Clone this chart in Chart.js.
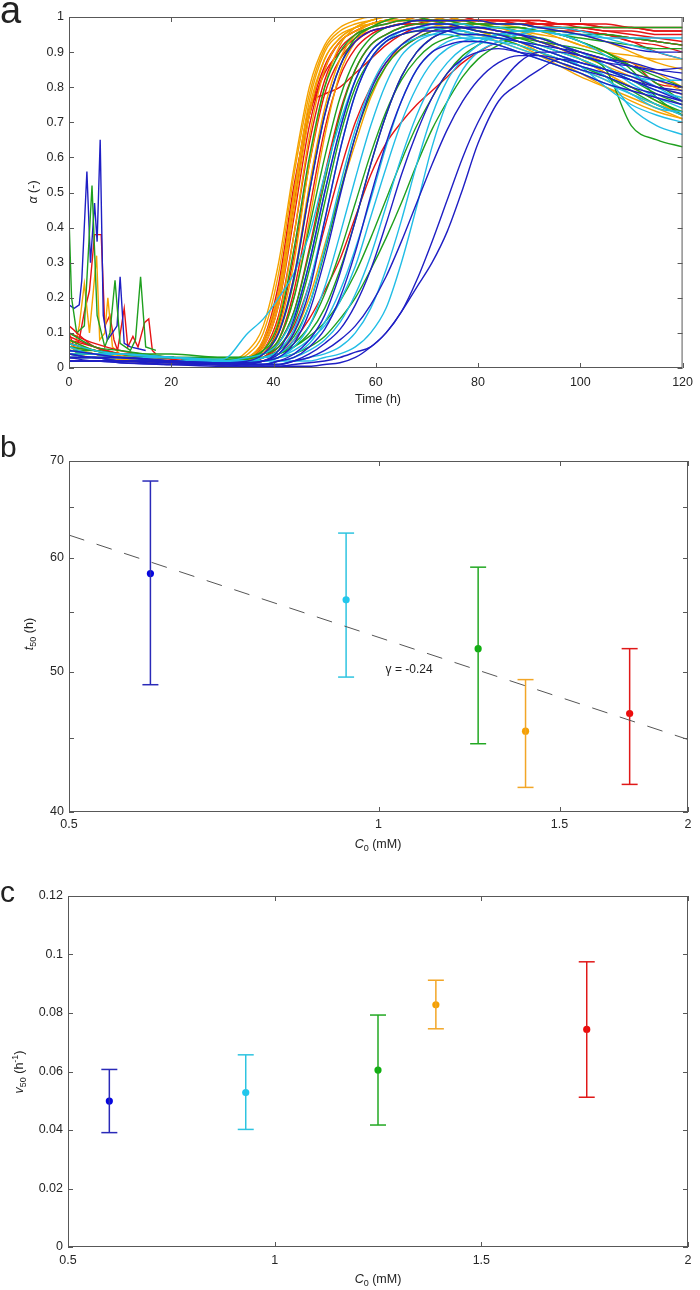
<!DOCTYPE html>
<html lang="en">
<head>
<meta charset="UTF-8">
<title>Aggregation kinetics vs concentration</title>
<script src="https://cdn.jsdelivr.net/npm/chart.js"></script>
<style>
  body { margin: 0; background: #fff; font-family: 'Liberation Sans', Arial, sans-serif; color: #222; }
  #page { position: relative; width: 700px; height: 1290px; overflow: hidden; }
  canvas { position: absolute; left: 0; }
  .lbl { position: absolute; font-size: 12.5px; line-height: 1; white-space: nowrap; transform: translate(-50%, -50%); }
  .rot { transform: translate(-50%, -50%) rotate(-90deg); }
  .panel { position: absolute; left: 0; line-height: 1; }
  sub, sup { font-size: 0.72em; line-height: 0; }
</style>
</head>
<body>
<div id="page">
  <canvas id="chartA" width="700" height="420" style="top:0"></canvas>
  <canvas id="chartB" width="700" height="420" style="top:440px"></canvas>
  <canvas id="chartC" width="700" height="420" style="top:870px"></canvas>

  <div class="panel" style="top:-9px;font-size:38px">a</div>
  <div class="panel" style="top:432px;font-size:30px">b</div>
  <div class="panel" style="top:877px;font-size:30px">c</div>

  <div class="lbl" style="left:378px;top:399px">Time (h)</div>
  <div class="lbl rot" style="left:33px;top:192px"><i>α</i> (-)</div>
  <div class="lbl" style="left:378px;top:844px"><i>C</i><sub>0</sub> (mM)</div>
  <div class="lbl rot" style="left:29px;top:634px"><i>t</i><sub>50</sub> (h)</div>
  <div class="lbl" style="left:378px;top:1279px"><i>C</i><sub>0</sub> (mM)</div>
  <div class="lbl rot" style="left:19px;top:1072px"><i>v</i><sub>50</sub> (h<sup>-1</sup>)</div>
</div>

<script>
// ---- panel a: alpha(t) traces, all sampled on the same time grid ----
const T = [0, 5, 10, 20, 30, 35, 38, 41, 44, 47, 50, 53, 56, 59, 62, 65, 68, 71, 74, 77, 80, 84, 88, 92, 96, 100, 105, 110, 115, 120];

const blueRuns = [
  [0.05,0.04,0.03,0.02,0.015, 0.02,0.04,0.10,0.26,0.50, 0.72,0.86,0.93,0.96,0.97, 0.98,0.99,0.99,0.99,0.99, 0.99,0.98,0.98,0.97,0.96, 0.95,0.93,0.91,0.90,0.90],
  [0.04,0.03,0.03,0.02,0.01, 0.015,0.02,0.05,0.14,0.30, 0.50,0.68,0.82,0.90,0.94, 0.96,0.97,0.98,0.98,0.97, 0.96,0.95,0.93,0.91,0.89, 0.87,0.85,0.83,0.80,0.78],
  [0.03,0.03,0.02,0.02,0.01, 0.01,0.02,0.03,0.07,0.16, 0.31,0.49,0.66,0.79,0.87, 0.92,0.95,0.97,0.97,0.97, 0.97,0.96,0.95,0.94,0.92, 0.90,0.88,0.86,0.84,0.82],
  [0.02,0.02,0.02,0.015,0.01, 0.01,0.01,0.02,0.04,0.08, 0.15,0.27,0.42,0.58,0.72, 0.83,0.90,0.94,0.96,0.97, 0.97,0.96,0.95,0.93,0.91, 0.89,0.87,0.86,0.85,0.855],
  [0.03,0.02,0.02,0.015,0.01, 0.01,0.01,0.01,0.02,0.04, 0.07,0.11,0.18,0.28,0.41, 0.55,0.67,0.77,0.84,0.88, 0.90,0.91,0.90,0.89,0.87, 0.85,0.83,0.80,0.78,0.76],
  [0.02,0.02,0.015,0.01,0.01, 0.005,0.005,0.005,0.01,0.015, 0.02,0.03,0.045,0.06,0.10, 0.16,0.25,0.36,0.48,0.60, 0.70,0.80,0.87,0.90,0.90, 0.89,0.87,0.84,0.82,0.80],
  [0.02,0.02,0.015,0.01,0.005, 0.005,0.005,0.005,0.005,0.005, 0.01,0.015,0.03,0.06,0.10, 0.16,0.23,0.30,0.39,0.51, 0.64,0.76,0.81,0.85,0.88, 0.87,0.85,0.82,0.79,0.76],
  [0.03,0.03,0.02,0.02,0.01, 0.01,0.01,0.02,0.03,0.06, 0.11,0.20,0.33,0.49,0.64, 0.76,0.85,0.90,0.92,0.93, 0.93,0.92,0.90,0.88,0.86, 0.84,0.81,0.79,0.77,0.75],
  [0.04,0.03,0.03,0.02,0.015, 0.015,0.02,0.04,0.10,0.22, 0.42,0.62,0.78,0.88,0.93, 0.95,0.96,0.96,0.96,0.95, 0.95,0.94,0.93,0.92,0.91, 0.90,0.88,0.87,0.85,0.84],
  [0.02,0.02,0.02,0.01,0.01, 0.01,0.01,0.01,0.02,0.03, 0.05,0.08,0.12,0.18,0.26, 0.36,0.47,0.58,0.68,0.76, 0.82,0.87,0.89,0.89,0.88, 0.86,0.84,0.82,0.80,0.79]
];
const cyanRuns = [
  [0.04,0.03,0.03,0.03,0.025, 0.10,0.14,0.20,0.27,0.38, 0.55,0.70,0.82,0.90,0.94, 0.96,0.97,0.97,0.96,0.95, 0.94,0.93,0.91,0.89,0.87, 0.85,0.82,0.78,0.74,0.73],
  [0.06,0.04,0.04,0.03,0.02, 0.02,0.03,0.05,0.11,0.24, 0.42,0.62,0.78,0.88,0.93, 0.96,0.97,0.98,0.98,0.98, 0.97,0.97,0.96,0.96,0.95, 0.95,0.94,0.94,0.94,0.94],
  [0.03,0.03,0.03,0.02,0.02, 0.02,0.02,0.03,0.06,0.12, 0.23,0.38,0.54,0.69,0.81, 0.89,0.93,0.95,0.96,0.96, 0.95,0.94,0.93,0.91,0.89, 0.87,0.85,0.83,0.82,0.82],
  [0.05,0.04,0.04,0.03,0.02, 0.02,0.02,0.03,0.04,0.07, 0.13,0.22,0.34,0.48,0.63, 0.76,0.85,0.90,0.93,0.94, 0.94,0.93,0.92,0.90,0.88, 0.86,0.83,0.74,0.69,0.665],
  [0.04,0.04,0.03,0.03,0.02, 0.02,0.02,0.02,0.03,0.05, 0.08,0.13,0.21,0.32,0.46, 0.60,0.72,0.81,0.87,0.91, 0.93,0.95,0.95,0.94,0.92, 0.90,0.86,0.81,0.77,0.74],
  [0.03,0.03,0.02,0.02,0.015, 0.01,0.01,0.01,0.02,0.02, 0.03,0.04,0.06,0.10,0.17, 0.30,0.46,0.63,0.76,0.85, 0.90,0.93,0.95,0.96,0.95, 0.93,0.89,0.84,0.80,0.76],
  [0.05,0.04,0.03,0.02,0.015, 0.01,0.01,0.02,0.02,0.03, 0.04,0.06,0.10,0.17,0.28, 0.42,0.58,0.72,0.82,0.88, 0.92,0.95,0.96,0.97,0.97, 0.96,0.94,0.92,0.90,0.88],
  [0.04,0.03,0.03,0.02,0.02, 0.02,0.03,0.04,0.08,0.18, 0.34,0.52,0.68,0.80,0.88, 0.92,0.94,0.95,0.95,0.94, 0.93,0.92,0.90,0.88,0.86, 0.84,0.81,0.78,0.75,0.72],
  [0.03,0.03,0.02,0.02,0.015, 0.015,0.02,0.03,0.05,0.08, 0.12,0.19,0.29,0.43,0.57, 0.70,0.80,0.87,0.91,0.93, 0.94,0.94,0.93,0.91,0.89, 0.86,0.80,0.75,0.72,0.70],
  [0.07,0.05,0.04,0.03,0.02, 0.03,0.04,0.07,0.15,0.30, 0.50,0.68,0.82,0.90,0.94, 0.96,0.97,0.97,0.97,0.96, 0.95,0.94,0.93,0.92,0.90, 0.88,0.85,0.82,0.79,0.77]
];
const greenRuns = [
  [0.06,0.05,0.04,0.03,0.02, 0.03,0.05,0.13,0.34,0.60, 0.80,0.90,0.95,0.97,0.98, 0.99,0.99,0.99,0.98,0.98, 0.97,0.97,0.96,0.96,0.95, 0.94,0.93,0.92,0.91,0.91],
  [0.08,0.05,0.04,0.03,0.02, 0.025,0.04,0.08,0.20,0.40, 0.60,0.77,0.88,0.94,0.97, 0.98,0.99,0.99,0.99,0.99, 0.98,0.98,0.98,0.97,0.97, 0.97,0.97,0.97,0.97,0.97],
  [0.05,0.04,0.04,0.03,0.03, 0.03,0.04,0.06,0.13,0.28, 0.47,0.66,0.80,0.88,0.93, 0.95,0.96,0.97,0.97,0.96, 0.95,0.94,0.92,0.90,0.88, 0.86,0.83,0.79,0.75,0.72],
  [0.04,0.04,0.03,0.03,0.02, 0.02,0.03,0.05,0.09,0.18, 0.33,0.50,0.66,0.78,0.86, 0.91,0.94,0.96,0.97,0.97, 0.96,0.95,0.94,0.93,0.92, 0.91,0.89,0.86,0.83,0.80],
  [0.05,0.04,0.03,0.03,0.02, 0.02,0.02,0.03,0.04,0.06, 0.09,0.14,0.20,0.28,0.37, 0.47,0.58,0.68,0.76,0.83, 0.88,0.92,0.94,0.94,0.92, 0.89,0.85,0.69,0.65,0.63],
  [0.07,0.05,0.04,0.03,0.02, 0.02,0.03,0.04,0.06,0.09, 0.13,0.19,0.27,0.37,0.48, 0.59,0.69,0.77,0.84,0.89, 0.92,0.95,0.96,0.96,0.95, 0.93,0.90,0.85,0.77,0.72],
  [0.05,0.04,0.04,0.03,0.02, 0.02,0.03,0.04,0.06,0.10, 0.17,0.28,0.42,0.58,0.72, 0.83,0.90,0.94,0.96,0.97, 0.97,0.97,0.97,0.96,0.95, 0.93,0.90,0.86,0.81,0.76],
  [0.05,0.05,0.04,0.04,0.03, 0.03,0.04,0.07,0.16,0.33, 0.53,0.72,0.85,0.92,0.95, 0.97,0.98,0.98,0.98,0.97, 0.96,0.95,0.94,0.92,0.90, 0.88,0.85,0.82,0.78,0.75],
  [0.10,0.06,0.05,0.03,0.025, 0.03,0.05,0.10,0.25,0.50, 0.72,0.86,0.94,0.97,0.99, 1.0,1.0,0.99,0.99,0.98, 0.98,0.97,0.97,0.96,0.96, 0.95,0.95,0.94,0.93,0.92],
  [0.04,0.04,0.04,0.03,0.03, 0.03,0.03,0.04,0.07,0.12, 0.21,0.33,0.47,0.61,0.73, 0.82,0.88,0.92,0.94,0.95, 0.95,0.94,0.93,0.91,0.89, 0.86,0.83,0.80,0.76,0.73]
];
const orangeRuns = [
  [0.05,0.04,0.03,0.02,0.015, 0.04,0.10,0.27,0.55,0.78, 0.91,0.96,0.98,0.99,1.0, 1.0,1.0,1.0,0.99,0.99, 0.99,0.98,0.97,0.96,0.94, 0.92,0.90,0.87,0.84,0.80],
  [0.04,0.03,0.025,0.02,0.01, 0.03,0.08,0.22,0.50,0.76, 0.90,0.95,0.97,0.98,0.99, 1.0,1.0,0.99,0.99,0.98, 0.97,0.96,0.95,0.93,0.91, 0.88,0.84,0.80,0.76,0.72],
  [0.03,0.03,0.02,0.015,0.01, 0.025,0.06,0.18,0.45,0.72, 0.88,0.94,0.97,0.99,1.0, 1.0,1.0,1.0,0.99,0.98, 0.98,0.97,0.96,0.95,0.94, 0.92,0.90,0.89,0.88,0.88],
  [0.06,0.04,0.03,0.02,0.015, 0.02,0.05,0.14,0.38,0.66, 0.85,0.93,0.96,0.98,0.99, 0.99,1.0,0.99,0.98,0.97, 0.96,0.95,0.93,0.90,0.87, 0.84,0.80,0.76,0.73,0.71],
  [0.02,0.02,0.02,0.015,0.01, 0.02,0.04,0.11,0.30,0.58, 0.80,0.92,0.97,0.99,1.0, 1.0,1.0,1.0,0.99,0.99, 0.98,0.97,0.96,0.94,0.92, 0.90,0.87,0.84,0.82,0.79],
  [0.08,0.05,0.035,0.02,0.02, 0.025,0.04,0.08,0.20,0.42, 0.66,0.84,0.93,0.97,0.99, 1.0,1.0,1.0,1.0,0.99, 0.98,0.97,0.95,0.93,0.91, 0.89,0.86,0.83,0.80,0.78],
  [0.04,0.03,0.03,0.02,0.015, 0.02,0.03,0.05,0.10,0.20, 0.35,0.50,0.64,0.77,0.86, 0.92,0.95,0.97,0.98,0.98, 0.97,0.96,0.95,0.93,0.91, 0.88,0.84,0.80,0.76,0.72],
  [0.05,0.04,0.03,0.02,0.01, 0.03,0.07,0.20,0.48,0.74, 0.88,0.94,0.97,0.98,0.99, 0.99,0.99,0.98,0.97,0.96, 0.95,0.93,0.91,0.89,0.87, 0.85,0.82,0.78,0.75,0.73],
  [0.06,0.05,0.03,0.02,0.015, 0.05,0.12,0.30,0.57,0.80, 0.92,0.97,0.99,1.0,1.0, 1.0,1.0,1.0,1.0,0.99, 0.99,0.98,0.98,0.97,0.96, 0.95,0.93,0.90,0.87,0.85],
  [0.05,0.04,0.03,0.02,0.015, 0.02,0.04,0.10,0.26,0.52, 0.74,0.88,0.95,0.98,0.99, 1.0,1.0,0.99,0.98,0.97, 0.96,0.94,0.92,0.89,0.86, 0.83,0.80,0.77,0.74,0.71]
];
const redRuns = [
  [0.06,0.05,0.04,0.03,0.015, 0.03,0.08,0.24,0.52,0.72, 0.84,0.90,0.94,0.96,0.97, 0.98,0.98,0.99,0.99,0.99, 0.99,0.99,0.98,0.98,0.97, 0.97,0.96,0.96,0.95,0.95],
  [0.10,0.07,0.05,0.03,0.02, 0.03,0.07,0.22,0.50,0.74, 0.78,0.80,0.84,0.88,0.92, 0.95,0.97,0.98,0.99,0.99, 0.99,0.98,0.98,0.97,0.97, 0.96,0.95,0.93,0.90,0.88],
  [0.04,0.04,0.03,0.02,0.01, 0.02,0.05,0.15,0.38,0.64, 0.82,0.91,0.95,0.97,0.98, 0.99,0.99,1.0,1.0,0.99, 0.99,0.99,0.98,0.98,0.97, 0.96,0.95,0.93,0.92,0.90],
  [0.08,0.06,0.04,0.025,0.015, 0.02,0.04,0.12,0.32,0.58, 0.78,0.88,0.93,0.96,0.97, 0.98,0.99,0.99,1.0,1.0, 0.99,0.99,0.99,0.98,0.98, 0.97,0.96,0.95,0.94,0.93],
  [0.03,0.03,0.025,0.02,0.01, 0.015,0.03,0.08,0.22,0.45, 0.68,0.83,0.91,0.95,0.97, 0.98,0.98,0.98,0.98,0.97, 0.97,0.96,0.95,0.93,0.92, 0.90,0.88,0.87,0.81,0.80],
  [0.05,0.04,0.03,0.02,0.01, 0.015,0.02,0.04,0.08,0.14, 0.22,0.31,0.43,0.55,0.64, 0.70,0.75,0.79,0.83,0.87, 0.90,0.93,0.95,0.96,0.96, 0.96,0.95,0.94,0.93,0.92],
  [0.12,0.06,0.04,0.03,0.02, 0.02,0.03,0.07,0.16,0.34, 0.55,0.73,0.85,0.92,0.95, 0.97,0.98,0.99,0.99,0.99, 0.99,0.99,0.99,0.99,0.98, 0.98,0.98,0.97,0.97,0.97],
  [0.07,0.05,0.04,0.03,0.02, 0.03,0.06,0.18,0.43,0.69, 0.85,0.93,0.96,0.98,0.99, 0.99,1.0,1.0,1.0,0.99, 0.99,0.99,0.99,0.98,0.98, 0.98,0.97,0.97,0.96,0.96],
  [0.09,0.06,0.04,0.03,0.02, 0.03,0.07,0.20,0.47,0.72, 0.86,0.93,0.96,0.98,0.99, 0.99,1.0,1.0,1.0,1.0, 0.99,0.99,0.99,0.99,0.98, 0.98,0.97,0.97,0.96,0.96],
  [0.05,0.04,0.03,0.02,0.015, 0.02,0.03,0.06,0.12,0.24, 0.40,0.56,0.70,0.80,0.87, 0.91,0.94,0.96,0.97,0.98, 0.98,0.98,0.98,0.97,0.97, 0.96,0.95,0.94,0.93,0.92]
];

// early noisy spikes (first ~18 h), each with its own sample times
const greenNoiseT = [0, 0.5, 1.5, 3, 4.5, 5.5, 7, 8, 9, 10, 12, 13, 14, 15, 17];
const greenNoise  = [0.43, 0.2, 0.1, 0.12, 0.52, 0.15, 0.06, 0.1, 0.25, 0.07, 0.05, 0.08, 0.26, 0.06, 0.05];
const blueNoiseT  = [0, 1, 2, 2.5, 3.5, 4.2, 5, 5.5, 6.1, 6.7, 7.5, 8.5, 9.4, 10, 10.8, 12, 15];
const blueNoise   = [0.18, 0.17, 0.18, 0.25, 0.56, 0.3, 0.47, 0.36, 0.65, 0.15, 0.08, 0.1, 0.12, 0.26, 0.07, 0.06, 0.05];
const orangeNoiseT = [0, 1, 2, 3, 4, 5.4, 6, 7, 7.6, 8.5, 10, 12];
const orangeNoise  = [0.08, 0.05, 0.12, 0.24, 0.1, 0.32, 0.08, 0.1, 0.2, 0.06, 0.04, 0.03];
const redNoiseT = [0, 1, 2, 3, 4, 5, 6.3, 7, 8, 8.8, 9.5, 10.8, 11.5, 12.5, 13.5, 14.8, 15.6, 16.3, 17];
const redNoise  = [0.1, 0.06, 0.08, 0.16, 0.22, 0.38, 0.38, 0.12, 0.15, 0.08, 0.05, 0.17, 0.06, 0.09, 0.06, 0.13, 0.14, 0.05, 0.04];

const aTicksX = [0, 20, 40, 60, 80, 100, 120];
const aTicksY = [0, 0.1, 0.2, 0.3, 0.4, 0.5, 0.6, 0.7, 0.8, 0.9, 1];

// ---- panels b and c: per-concentration summaries ----
const conc = [0.6, 0.93, 1.25, 1.39, 1.755];
const t50Mean = [58.5, 56.1, 51.9, 45.5, 46.8];
const t50Lo   = [49.0, 49.6, 44.6, 41.6, 41.8];
const t50Hi   = [67.8, 62.4, 59.1, 49.4, 51.9];
const fitX = [0.5, 2];
const fitY = [62.2, 44.9];
const v50Mean = [0.0499, 0.0528, 0.0605, 0.0828, 0.0744];
const v50Lo   = [0.0391, 0.0402, 0.0417, 0.0746, 0.0512];
const v50Hi   = [0.0607, 0.0657, 0.0793, 0.0912, 0.0975];

const bTicksX = [0.5, 1, 1.5, 2];
const bTicksY = [40, 45, 50, 55, 60, 65, 70];
const cTicksX = [0.5, 1, 1.5, 2];
const cTicksY = [0, 0.02, 0.04, 0.06, 0.08, 0.1, 0.12];

const lineCol  = { blue: '#1f1fc4', cyan: '#22bde6', green: '#1fa01f', orange: '#f5a300', red: '#e61414' };
const barCols   = ['#2a2ab8', '#2ec4e0', '#22a822', '#f2a627', '#e01818'];
const pointCols = ['#0505e0', '#1ec8f0', '#10b010', '#f5a000', '#ee0a0a'];

Chart.defaults.font.family = "'Liberation Sans', Arial, sans-serif";
Chart.defaults.font.size = 12.5;
Chart.defaults.color = '#262626';

// matlab-like box with inward ticks on all four sides
const frame = {
  id: 'frame',
  afterDraw(chart) {
    const { ctx, chartArea: a, scales: { x, y } } = chart;
    ctx.save();
    ctx.strokeStyle = '#585858';
    ctx.lineWidth = 1;
    ctx.strokeRect(a.left + 0.5, a.top + 0.5, a.right - a.left - 1, a.bottom - a.top - 1);
    ctx.beginPath();
    x.ticks.forEach(t => {
      const px = Math.round(x.getPixelForValue(t.value)) + 0.5;
      ctx.moveTo(px, a.bottom); ctx.lineTo(px, a.bottom - 5);
      ctx.moveTo(px, a.top); ctx.lineTo(px, a.top + 5);
    });
    y.ticks.forEach(t => {
      const py = Math.round(y.getPixelForValue(t.value)) + 0.5;
      ctx.moveTo(a.left, py); ctx.lineTo(a.left + 5, py);
      ctx.moveTo(a.right, py); ctx.lineTo(a.right - 5, py);
    });
    ctx.stroke();
    ctx.restore();
  }
};

function axis(type, min, max, ticks, size, horizontal, pad, label) {
  return {
    type, min, max,
    grid: { display: false, drawTicks: false },
    border: { display: false },
    ticks: { padding: pad, autoSkip: false, maxRotation: 0, callback: label || (v => String(v)) },
    afterBuildTicks: s => { s.ticks = ticks.map(v => ({ value: v })); },
    afterFit: s => { if (horizontal) s.height = size; else s.width = size; }
  };
}

const baseOpts = {
  responsive: false,
  animation: false,
  events: [],
  plugins: { legend: { display: false }, tooltip: { enabled: false } }
};

// ---- chart a ----
const traceSets = [];
function addRuns(runs, color) {
  runs.forEach(r => traceSets.push({
    data: T.map((t, i) => ({ x: t, y: r[i] })),
    borderColor: color, borderWidth: 1.4, pointRadius: 0, fill: false,
    cubicInterpolationMode: 'monotone'
  }));
}
function addNoise(ts, vs, color) {
  traceSets.push({
    data: ts.map((t, i) => ({ x: t, y: vs[i] })),
    borderColor: color, borderWidth: 1.4, pointRadius: 0, fill: false, tension: 0
  });
}
addRuns(blueRuns, lineCol.blue);
addRuns(cyanRuns, lineCol.cyan);
addRuns(greenRuns, lineCol.green);
addRuns(orangeRuns, lineCol.orange);
addRuns(redRuns, lineCol.red);
addNoise(greenNoiseT, greenNoise, lineCol.green);
addNoise(blueNoiseT, blueNoise, lineCol.blue);
addNoise(orangeNoiseT, orangeNoise, lineCol.orange);
addNoise(redNoiseT, redNoise, lineCol.red);

new Chart(document.getElementById('chartA'), {
  type: 'line',
  data: { datasets: traceSets },
  options: Object.assign({}, baseOpts, {
    layout: { padding: { top: 17, right: 12, left: 0, bottom: 0 } },
    scales: {
      x: axis('linear', 0, 120, aTicksX, 52, true, 7),
      y: axis('linear', 0, 1, aTicksY, 69, false, 5)
    }
  }),
  plugins: [frame]
});

// ---- error-bar helpers for b and c ----
function errorSets(lo, hi, mean) {
  const sets = conc.map((c, i) => ({
    data: [{ x: c, y: lo[i] }, { x: c, y: hi[i] }],
    showLine: true,
    borderColor: barCols[i], borderWidth: 1.5,
    pointStyle: 'line', pointRadius: 8, pointBorderWidth: 1.5,
    pointBorderColor: barCols[i], pointBackgroundColor: barCols[i]
  }));
  sets.push({
    data: conc.map((c, i) => ({ x: c, y: mean[i] })),
    pointRadius: 3.6, pointBorderWidth: 0,
    pointBackgroundColor: pointCols
  });
  return sets;
}

// ---- chart b (log-log) ----
const noteAt = [1.016, 50.2];
const gammaNote = {
  id: 'gammaNote',
  afterDatasetsDraw(chart) {
    const { ctx, scales: { x, y } } = chart;
    ctx.save();
    ctx.font = "12px 'Liberation Sans', Arial, sans-serif";
    ctx.fillStyle = '#222';
    ctx.textBaseline = 'middle';
    ctx.fillText('γ = -0.24', x.getPixelForValue(noteAt[0]), y.getPixelForValue(noteAt[1]));
    ctx.restore();
  }
};

const bSets = [{
  data: fitX.map((v, i) => ({ x: v, y: fitY[i] })),
  showLine: true, borderColor: '#555', borderWidth: 1, borderDash: [16, 13], pointRadius: 0
}].concat(errorSets(t50Lo, t50Hi, t50Mean));

new Chart(document.getElementById('chartB'), {
  type: 'scatter',
  data: { datasets: bSets },
  options: Object.assign({}, baseOpts, {
    layout: { padding: { top: 21, right: 12, left: 0, bottom: 0 } },
    scales: {
      x: axis('logarithmic', 0.5, 2, bTicksX, 48, true, 5),
      y: axis('logarithmic', 40, 70, bTicksY, 69, false, 5, v => (v % 10 === 0 ? String(v) : ''))
    }
  }),
  plugins: [frame, gammaNote]
});

// ---- chart c ----
new Chart(document.getElementById('chartC'), {
  type: 'scatter',
  data: { datasets: errorSets(v50Lo, v50Hi, v50Mean) },
  options: Object.assign({}, baseOpts, {
    layout: { padding: { top: 26, right: 12, left: 0, bottom: 0 } },
    scales: {
      x: axis('linear', 0.5, 2, cTicksX, 43, true, 6),
      y: axis('linear', 0, 0.12, cTicksY, 68, false, 5)
    }
  }),
  plugins: [frame]
});
</script>
</body>
</html>
